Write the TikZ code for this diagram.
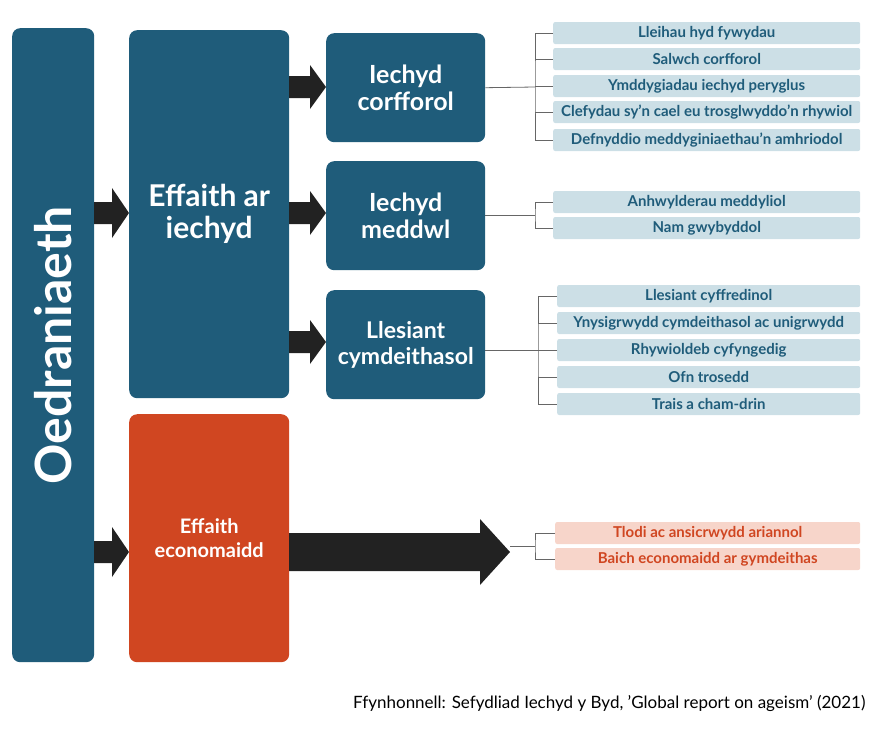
\documentclass[tikz,border=0pt]{standalone}
\usepackage{fontspec}
\setmainfont{Lato}
\begin{document}
\definecolor{dblue}{HTML}{1F5C7A}
\definecolor{lblue}{HTML}{CCDFE6}
\definecolor{orng}{HTML}{D04621}
\definecolor{lorng}{HTML}{F7D5CA}
\definecolor{arrc}{HTML}{222222}
\newcommand\Barr[6]{\fill[arrc] (#1,#3-#4) -- (#2-#6,#3-#4) -- (#2-#6,#3-#5) -- (#2,#3) -- (#2-#6,#3+#5) -- (#2-#6,#3+#4) -- (#1,#3+#4) -- cycle;}
\begin{tikzpicture}[x=1pt,y=-1pt,
  box/.style={fill=dblue,rounded corners=8pt,text=white,font=\bfseries,align=center,inner sep=0pt,anchor=north west},
  item/.style={fill=lblue,rounded corners=2pt,text=dblue,font=\bfseries\fontsize{15}{17}\selectfont,inner sep=0pt,minimum height=22pt,anchor=west},
  eitem/.style={item,fill=lorng,text=orng},
  br/.style={draw=black!60,line width=0.8pt}]
\useasboundingbox (0,0) rectangle (880,737);
\node[box,minimum width=82pt,minimum height=634pt] (o) at (12,28) {};
\node[text=white,font=\bfseries\fontsize{50}{50}\selectfont,rotate=90] at (o.center) {Oedraniaeth};
\node[box,minimum width=160pt,minimum height=368pt,font=\bfseries\fontsize{30}{32}\selectfont] (e) at (129,30) {Effaith ar\\iechyd};
\node[box,fill=orng,minimum width=160pt,minimum height=248pt,font=\bfseries\fontsize{20}{24}\selectfont] (ec) at (129,414) {Effaith\\economaidd};
\node[box,minimum width=159pt,minimum height=109pt,font=\bfseries\fontsize{25}{27}\selectfont] (c) at (326,33) {Iechyd\\corfforol};
\node[box,minimum width=159pt,minimum height=109pt,font=\bfseries\fontsize{25}{27}\selectfont] (m) at (326,161) {Iechyd\\meddwl};
\node[box,minimum width=159pt,minimum height=109pt,font=\bfseries\fontsize{23}{26}\selectfont] (l) at (326,290) {Llesiant\\cymdeithasol};
% arrows
\Barr{94}{129}{213}{11}{25}{17}
\Barr{94}{129}{552}{11}{25}{17}
\Barr{289}{326}{87}{11}{22}{16}
\Barr{289}{326}{213}{11}{22}{16}
\Barr{289}{326}{342}{11}{22}{16}
\Barr{289}{510}{552}{19}{33}{30}
% items
\foreach \n/\y/\t in {c1/33/Lleihau hyd fywydau,c2/59/Salwch corfforol,c3/86/Ymddygiadau iechyd peryglus,c4/112/{Clefydau sy’n cael eu trosglwyddo’n rhywiol},c5/140/{Defnyddio meddyginiaethau’n amhriodol},m1/202/Anhwylderau meddyliol,m2/228/Nam gwybyddol}
  \node[item,minimum width=307pt] (\n) at (553,\y) {\t};
\foreach \n/\y/\t in {l1/296/Llesiant cyffredinol,l2/323/Ynysigrwydd cymdeithasol ac unigrwydd,l3/350/Rhywioldeb cyfyngedig,l4/377/Ofn trosedd,l5/404/Trais a cham-drin}
  \node[item,minimum width=303pt] (\n) at (557,\y) {\t};
\node[eitem,minimum width=305pt] (x1) at (555,533) {Tlodi ac ansicrwydd ariannol};
\node[eitem,minimum width=305pt] (x2) at (555,559) {Baich economaidd ar gymdeithas};
% brackets
\coordinate (bc) at (535,87);
\draw[br] (c.east) -- (bc);
\draw[br] (c1.west) -| (bc) |- (c5.west);
\foreach \n in {c2,c3,c4} \draw[br] (bc|-\n.west) -- (\n.west);
\coordinate (bm) at (535,215);
\draw[br] (m.east|-bm) -- (bm);
\draw[br] (m1.west) -| (bm) |- (m2.west);
\coordinate (bl) at (538,350);
\draw[br] (l.east|-bl) -- (bl);
\draw[br] (l1.west) -| (bl) |- (l5.west);
\foreach \n in {l2,l3,l4} \draw[br] (bl|-\n.west) -- (\n.west);
\coordinate (bx) at (535,546);
\draw[br] (510,546) -- (bx);
\draw[br] (x1.west) -| (bx) |- (x2.west);
\node[anchor=east,font=\fontsize{17}{19}\selectfont] (src) at (869,703) {Ffynhonnell: Sefydliad Iechyd y Byd, 'Global report on ageism' (2021)};
\end{tikzpicture}
\end{document}
